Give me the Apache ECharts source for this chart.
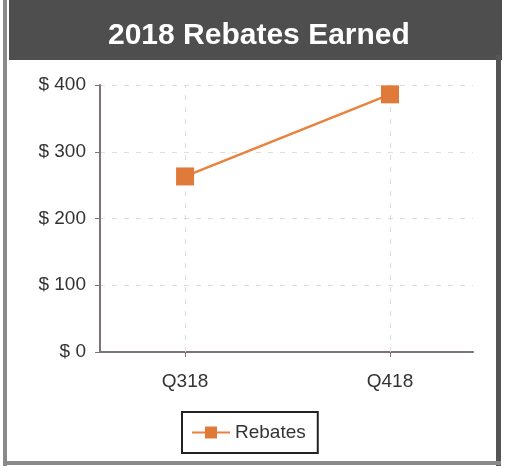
<!DOCTYPE html>
<html><head><meta charset="utf-8">
<script src="https://cdn.jsdelivr.net/npm/echarts@6/dist/echarts.min.js"></script>
<style>html,body{margin:0;padding:0;background:#fff}#c{width:505px;height:466px}</style>
</head><body><div id="c"></div>
<script>
const chartTitle = '2018 Rebates Earned';
const categories = ['Q318', 'Q418'];
const seriesName = 'Rebates';
const rebates = [263, 386];
const yMin = 0, yMax = 400, yStep = 100;

const FONT = 'Liberation Sans, Arial, sans-serif';
const chart = echarts.init(document.getElementById('c'));
const catIdx = categories.map((c, i) => i);
const option = {
  backgroundColor: '#fff',
  animation: false,
  graphic: [
    { type: 'rect', shape: { x: 3, y: 0, width: 4, height: 466 }, style: { fill: '#8a8a8a' }, z: 10 },
    { type: 'rect', shape: { x: 496, y: 55, width: 5, height: 411 }, style: { fill: '#555' }, z: 10 },
    { type: 'rect', shape: { x: 3, y: 461, width: 498, height: 4 }, style: { fill: '#8a8a8a' }, z: 10 },
    { type: 'rect', shape: { x: 9, y: 0, width: 493, height: 60 }, style: { fill: '#4e4e4e' }, z: 9 }
  ],
  title: {
    text: chartTitle, left: 103, top: 16,
    textStyle: { color: '#fff', fontSize: 30, fontWeight: 'bold', fontFamily: FONT },
    z: 20
  },
  grid: { left: 100, right: 32, top: 85, bottom: 114 },
  xAxis: {
    type: 'value', min: -0.415, max: 1.405,
    axisLine: { show: true, onZero: false, lineStyle: { color: '#7f7378', width: 2 } },
    axisTick: { show: true, customValues: catIdx, length: 5, lineStyle: { color: '#7f7378' } },
    axisLabel: { customValues: catIdx, formatter: v => categories[Math.round(v)], fontSize: 19, color: '#333', margin: 20, fontFamily: FONT },
    splitLine: { show: false }
  },
  yAxis: {
    type: 'value', min: yMin, max: yMax, interval: yStep,
    axisLine: { show: true, onZero: false, lineStyle: { color: '#7f7378', width: 2 } },
    axisTick: { show: true, length: 5, lineStyle: { color: '#7f7378' } },
    axisLabel: { formatter: '$ {value}', fontSize: 19, color: '#333', margin: 14, fontFamily: FONT },
    splitLine: { show: true, lineStyle: { color: '#ddd', type: [5, 7] } }
  },
  legend: {
    data: [seriesName], left: 182, top: 412,
    borderColor: '#222', borderWidth: 2, padding: [11, 12, 11, 9],
    itemWidth: 38, itemHeight: 15, itemGap: 8,
    textStyle: { fontSize: 19, color: '#333', fontFamily: FONT }
  },
  series: [{
    name: seriesName, type: 'line',
    data: rebates.map((v, i) => [i, v]),
    symbol: 'rect', symbolSize: 18,
    itemStyle: { color: '#e07a3a' },
    lineStyle: { color: '#e8823e', width: 2.5 },
    markLine: {
      silent: true, symbol: 'none', label: { show: false },
      lineStyle: { color: '#ddd', type: [5, 7], width: 1 },
      data: catIdx.map(i => ({ xAxis: i }))
    },
    z: 5
  }]
};
chart.setOption(option);
</script></body></html>
